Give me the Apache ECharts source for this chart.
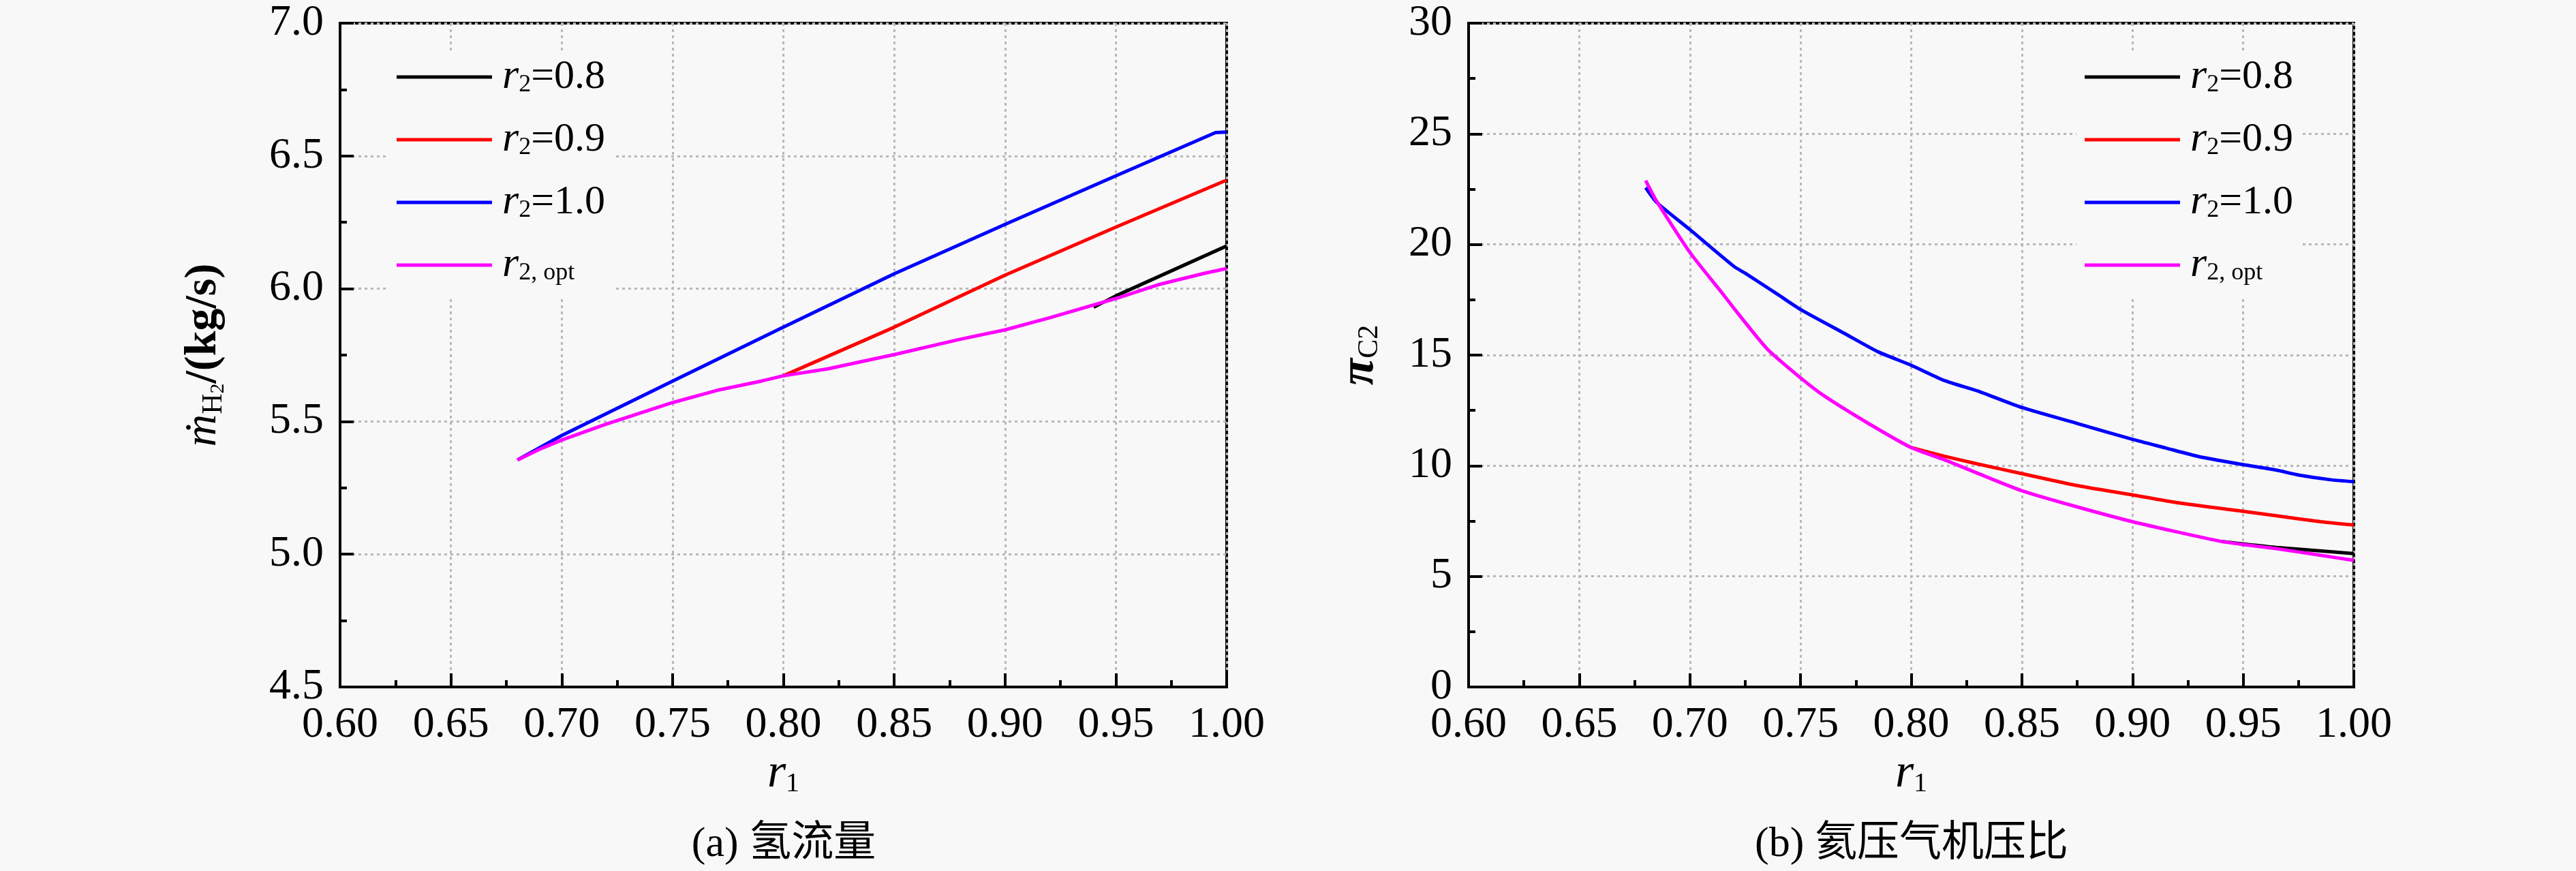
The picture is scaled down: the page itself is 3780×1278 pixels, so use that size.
<!DOCTYPE html>
<html>
<head>
<meta charset="utf-8">
<script src="https://cdn.jsdelivr.net/npm/echarts@6/dist/echarts.min.js"></script>
<style>
  html, body { margin: 0; padding: 0; background: #f8f8f8; }
  #chart { width: 3780px; height: 1278px; }
</style>
</head>
<body>
<div id="chart"></div>
<script>
// --- panel (a): hydrogen mass flow, kg/s ---
const aR1Opt   = [0.68, 0.69, 0.70, 0.72, 0.75, 0.77, 0.79, 0.80, 0.82, 0.85, 0.88, 0.90, 0.92, 0.95, 0.97, 0.99, 1.00];
const aOpt     = [5.355, 5.395, 5.43, 5.49, 5.571, 5.617, 5.652, 5.672, 5.698, 5.752, 5.81, 5.845, 5.89, 5.963, 6.017, 6.058, 6.076];
const aR1Blue  = [0.68, 0.70, 0.75, 0.80, 0.85, 0.90, 0.95, 0.995, 1.00];
const aBlue    = [5.355, 5.447, 5.652, 5.855, 6.056, 6.242, 6.425, 6.588, 6.59];
const aR1Red   = [0.80, 0.85, 0.90, 0.95, 1.00];
const aRed     = [5.672, 5.855, 6.051, 6.232, 6.409];
const aR1Black = [0.94, 0.95, 1.00];
const aBlack   = [5.93, 5.973, 6.161];

// --- panel (b): compressor pressure ratio ---
const bR1Opt   = [0.68, 0.685, 0.70, 0.715, 0.72, 0.735, 0.75, 0.76, 0.78, 0.80, 0.815, 0.83, 0.85, 0.875, 0.90, 0.92, 0.94, 0.95, 0.965, 0.985, 1.00];
const bOpt     = [22.89, 21.95, 19.64, 17.75, 17.1, 15.27, 13.97, 13.2, 11.95, 10.82, 10.27, 9.66, 8.87, 8.14, 7.47, 7.01, 6.58, 6.44, 6.25, 5.95, 5.72];
const bR1Blue  = [0.68, 0.685, 0.70, 0.72, 0.725, 0.74, 0.75, 0.77, 0.785, 0.80, 0.815, 0.83, 0.85, 0.875, 0.90, 0.915, 0.93, 0.95, 0.965, 0.975, 0.99, 1.00];
const bBlue    = [22.57, 21.9, 20.67, 19.0, 18.7, 17.72, 17.06, 15.97, 15.15, 14.54, 13.85, 13.38, 12.63, 11.91, 11.19, 10.8, 10.41, 10.05, 9.8, 9.58, 9.36, 9.28];
const bR1Red   = [0.80, 0.815, 0.83, 0.85, 0.875, 0.90, 0.92, 0.95, 0.965, 0.985, 1.00];
const bRed     = [10.82, 10.43, 10.08, 9.64, 9.1, 8.68, 8.33, 7.94, 7.74, 7.47, 7.32];
const bR1Black = [0.94, 0.965, 1.00];
const bBlack   = [6.58, 6.31, 6.03];

const seriesNames = ['r2=0.8', 'r2=0.9', 'r2=1.0', 'r2,opt'];
const legendLabels = {
    'r2=0.8': '{i|r}{s|2}{n|=0.8}',
    'r2=0.9': '{i|r}{s|2}{n|=0.9}',
    'r2=1.0': '{i|r}{s|2}{n|=1.0}',
    'r2,opt': '{i|r}{s|2, opt}'
};
const colors = ['#000000', '#ff0000', '#0000ff', '#ff00ff'];
const xTicks = { min: 0.6, max: 1.0, step: 0.05 };

const SERIF = '"Liberation Serif", serif';
const BG = '#f8f8f8';

const zip = (xs, ys) => xs.map((x, i) => [x, ys[i]]);

function xAxisFor(gridIndex) {
    return {
        type: 'value', gridIndex,
        min: xTicks.min, max: xTicks.max, interval: xTicks.step,
        axisLine: { onZero: false, lineStyle: { color: '#000', width: 4 } },
        axisTick: { inside: true, length: 20, lineStyle: { color: '#000', width: 4 } },
        minorTick: { show: true, splitNumber: 2, length: 10, lineStyle: { color: '#000', width: 4 } },
        splitLine: { show: true, lineStyle: { color: '#b8b8b8', width: 3, type: [4, 5] } },
        axisLabel: { fontFamily: SERIF, fontSize: 64, color: '#000', margin: 24, formatter: v => v.toFixed(2) },
        name: '{i|r}{s|1}', nameLocation: 'middle', nameGap: 86,
        nameTextStyle: {
            fontFamily: SERIF, color: '#000',
            rich: {
                i: { fontFamily: SERIF, fontSize: 70, fontStyle: 'italic', lineHeight: 70, color: '#000' },
                s: { fontFamily: SERIF, fontSize: 40, lineHeight: 16, verticalAlign: 'bottom', color: '#000' }
            }
        }
    };
}

function yAxisFor(gridIndex, min, max, step, digits, name, nameGap, rich) {
    return {
        type: 'value', gridIndex, min, max, interval: step,
        axisLine: { onZero: false, lineStyle: { color: '#000', width: 4 } },
        axisTick: { inside: true, length: 20, lineStyle: { color: '#000', width: 4 } },
        minorTick: { show: true, splitNumber: 2, length: 10, lineStyle: { color: '#000', width: 4 } },
        splitLine: { show: true, lineStyle: { color: '#b8b8b8', width: 3, type: [4, 5] } },
        axisLabel: { fontFamily: SERIF, fontSize: 64, color: '#000', margin: 24, formatter: v => v.toFixed(digits) },
        name, nameLocation: 'middle', nameGap,
        nameTextStyle: { fontFamily: SERIF, color: '#000', rich }
    };
}

function legendFor(gridIndex, left) {
    return {
        left, top: 77, orient: 'vertical',
        padding: [5, 12, 14, 12], itemGap: 30,
        itemWidth: 140, itemHeight: 5, icon: 'rect',
        backgroundColor: BG,
        data: seriesNames,
        formatter: name => legendLabels[name],
        textStyle: {
            fontFamily: SERIF, color: '#000',
            rich: {
                i: { fontFamily: SERIF, fontSize: 62, fontStyle: 'italic', lineHeight: 60, color: '#000', padding: [0, 0, 0, 10] },
                s: { fontFamily: SERIF, fontSize: 36, lineHeight: 8, verticalAlign: 'bottom', color: '#000' },
                n: { fontFamily: SERIF, fontSize: 60, lineHeight: 60, color: '#000' }
            }
        }
    };
}

function lineSeries(name, idx, data, color, smooth) {
    return {
        name, type: 'line', xAxisIndex: idx, yAxisIndex: idx,
        data, symbol: 'none', color, smooth,
        lineStyle: { color, width: 5 },
        emphasis: { disabled: true }, animation: false
    };
}

const chart = echarts.init(document.getElementById('chart'));
chart.setOption({
    backgroundColor: BG,
    animation: false,
    textStyle: { fontFamily: SERIF },
    grid: [
        { left: 499, top: 34, width: 1301, height: 974, show: true, borderColor: '#000', borderWidth: 4, backgroundColor: 'transparent' },
        { left: 2155, top: 34, width: 1299, height: 974, show: true, borderColor: '#000', borderWidth: 4, backgroundColor: 'transparent' }
    ],
    xAxis: [xAxisFor(0), xAxisFor(1)],
    yAxis: [
        yAxisFor(0, 4.5, 7.0, 0.5, 1, '{m|ṁ}{h|H}{t|2}{b|/(kg/s)}', 164, {
            m: { fontFamily: SERIF, fontSize: 66, fontStyle: 'italic', lineHeight: 72, color: '#000' },
            h: { fontFamily: SERIF, fontSize: 42, lineHeight: 18, verticalAlign: 'bottom', color: '#000' },
            t: { fontFamily: SERIF, fontSize: 30, lineHeight: 4, verticalAlign: 'bottom', color: '#000' },
            b: { fontFamily: SERIF, fontSize: 66, fontWeight: 'bold', lineHeight: 72, color: '#000' }
        }),
        yAxisFor(1, 0, 30, 5, 0, '{p|π}{s|C2}', 124, {
            p: { fontFamily: SERIF, fontSize: 72, fontStyle: 'italic', fontWeight: 'bold', lineHeight: 72, color: '#000' },
            s: { fontFamily: SERIF, fontSize: 42, lineHeight: 16, verticalAlign: 'bottom', color: '#000' }
        })
    ],
    legend: [legendFor(0, 570), legendFor(1, 3047)],
    series: [
        lineSeries(seriesNames[0], 0, zip(aR1Black, aBlack), colors[0], false),
        lineSeries(seriesNames[1], 0, zip(aR1Red, aRed), colors[1], false),
        lineSeries(seriesNames[2], 0, zip(aR1Blue, aBlue), colors[2], false),
        lineSeries(seriesNames[3], 0, zip(aR1Opt, aOpt), colors[3], false),
        lineSeries(seriesNames[0], 1, zip(bR1Black, bBlack), colors[0], 0.2),
        lineSeries(seriesNames[1], 1, zip(bR1Red, bRed), colors[1], 0.2),
        lineSeries(seriesNames[2], 1, zip(bR1Blue, bBlue), colors[2], 0.2),
        lineSeries(seriesNames[3], 1, zip(bR1Opt, bOpt), colors[3], 0.2)
    ],
    graphic: [
        { type: 'text', x: 1150, y: 1240, style: { text: '(a) 氢流量', fill: '#000', fontSize: 62, fontFamily: '"Liberation Serif", "Noto Sans CJK SC"', textAlign: 'center', textVerticalAlign: 'middle' } },
        { type: 'text', x: 2805, y: 1240, style: { text: '(b) 氦压气机压比', fill: '#000', fontSize: 62, fontFamily: '"Liberation Serif", "Noto Sans CJK SC"', textAlign: 'center', textVerticalAlign: 'middle' } }
    ]
});
</script>
</body>
</html>
